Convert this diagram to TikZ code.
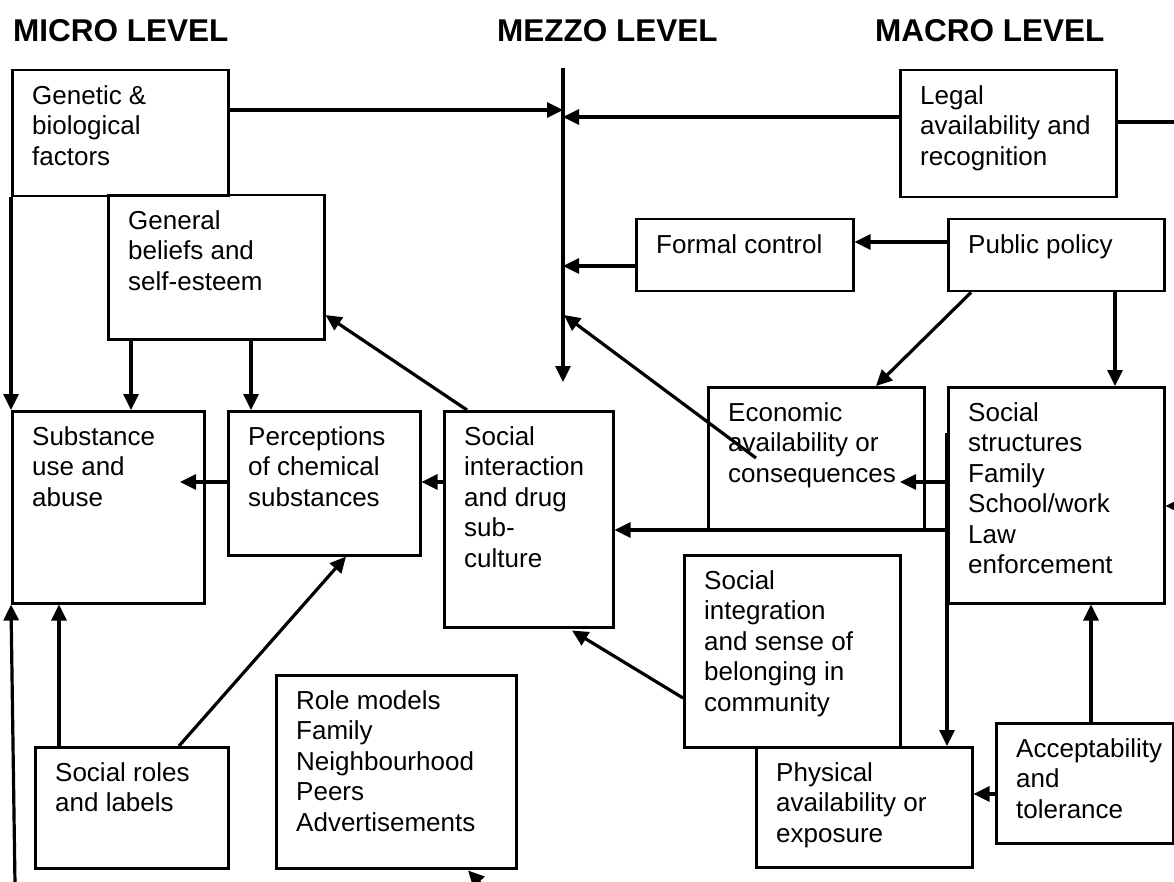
\documentclass[tikz,border=0pt]{standalone}
\usepackage{fontspec}
\setmainfont{Liberation Sans}
\usetikzlibrary{arrows.meta,calc}
\begin{document}
\begin{tikzpicture}[x=1pt,y=-1pt,
  box/.style={draw, line width=2.5pt, anchor=north west, inner sep=0pt},
  txt/.style={anchor=north west, inner sep=0pt, align=left, font=\fontsize{26}{30.5}\selectfont},
  head/.style={anchor=base west, inner sep=0pt, font=\fontsize{31.5}{36}\selectfont\bfseries},
  conn/.style={line width=3.2pt, -{Triangle[length=16pt,width=15pt]}},
  bare/.style={line width=3.2pt},
]
\useasboundingbox[fill=white] (0,0) rectangle (1174,882);

% headings
\node[head] (micro) at (13,41.7) {MICRO LEVEL};
\node[head] (mezzo) at (497,41.7) {MEZZO LEVEL};
\node[head] (macro) at (875,41.7) {MACRO LEVEL};

% boxes
\node[box, minimum width=216pt, minimum height=126pt] (gen) at (11,69) {};
\node[box, minimum width=216pt, minimum height=144pt] (bel) at (107,194) {};
\node[box, minimum width=192pt, minimum height=192pt] (sub) at (11,410) {};
\node[box, minimum width=192pt, minimum height=144pt] (per) at (227,410) {};
\node[box, minimum width=169pt, minimum height=216pt] (sint) at (443,410) {};
\node[box, minimum width=193pt, minimum height=121pt] (rol) at (34,746) {};
\node[box, minimum width=240pt, minimum height=193pt] (rmod) at (275,674) {};
\node[box, minimum width=216pt, minimum height=127pt] (leg) at (899,69) {};
\node[box, minimum width=217pt, minimum height=72pt] (form) at (635,218) {};
\node[box, minimum width=216pt, minimum height=72pt] (pub) at (947,218) {};
\node[box, minimum width=216pt, minimum height=143pt] (eco) at (707,386) {};
\node[box, minimum width=216pt, minimum height=216pt] (sstr) at (947,386) {};
\node[box, minimum width=216pt, minimum height=192pt] (sinteg) at (683,554) {};
\node[box, minimum width=216pt, minimum height=120pt] (phys) at (755,746) {};
\node[box, minimum width=177pt, minimum height=120pt] (acc) at (995,722) {};

% texts
\node[txt] (gen-t) at ($(gen.north west)+(21,13.65)$) {\strut Genetic \&\\biological\\factors};
\node[txt] (bel-t) at ($(bel.north west)+(21,13.65)$) {\strut General\\beliefs and\\self-esteem};
\node[txt] (sub-t) at ($(sub.north west)+(21,13.65)$) {\strut Substance\\use and\\abuse};
\node[txt] (per-t) at ($(per.north west)+(21,13.65)$) {\strut Perceptions\\of chemical\\substances};
\node[txt] (sint-t) at ($(sint.north west)+(21,13.65)$) {\strut Social\\interaction\\and drug\\sub-\\culture};
\node[txt] (rol-t) at ($(rol.north west)+(21,13.65)$) {\strut Social roles\\and labels};
\node[txt] (rmod-t) at ($(rmod.north west)+(21,13.65)$) {\strut Role models\\Family\\Neighbourhood\\Peers\\Advertisements};
\node[txt] (leg-t) at ($(leg.north west)+(21,13.65)$) {\strut Legal\\availability and\\recognition};
\node[txt] (form-t) at ($(form.north west)+(21,13.65)$) {\strut Formal control};
\node[txt] (pub-t) at ($(pub.north west)+(21,13.65)$) {\strut Public policy};
\node[txt] (eco-t) at ($(eco.north west)+(21,13.65)$) {\strut Economic\\availability or\\consequences};
\node[txt] (sstr-t) at ($(sstr.north west)+(21,13.65)$) {\strut Social\\structures\\Family\\School/work\\Law\\enforcement};
\node[txt] (sinteg-t) at ($(sinteg.north west)+(21,13.65)$) {\strut Social\\integration\\and sense of\\belonging in\\community};
\node[txt] (phys-t) at ($(phys.north west)+(21,13.65)$) {\strut Physical\\availability or\\exposure};
\node[txt] (acc-t) at ($(acc.north west)+(21,13.65)$) {\strut Acceptability\\and\\tolerance};

% free points
\coordinate (mzT) at (563,68);
\coordinate (mzB) at (563,382);
\coordinate (mzM) at (564,315);
\coordinate (edgeR) at (1175,0);
\coordinate (e22) at (1175,506);
\coordinate (lb) at (15,884);
\coordinate (bb) at (481,884);

% mezzo line
\draw[conn] (mzT) -- (mzB);

% connectors
\coordinate (g1) at ($(gen.north east)+(0,41)$);
\draw[conn] (g1) -- (g1 -| mzT);
\coordinate (l1) at ($(leg.north west)+(0,48)$);
\draw[conn] (l1) -- (l1 -| mzT);
\coordinate (l2) at ($(leg.north east)+(0,53)$);
\draw[bare] (l2) -- (l2 -| edgeR);
\coordinate (f1) at ($(form.north west)+(0,48)$);
\draw[conn] (f1) -- (f1 -| mzT);
\coordinate (p1) at ($(pub.north west)+(0,24)$);
\draw[conn] (p1) -- (p1 -| form.east);
\draw[conn] ($(pub.south west)+(24,0)$) -- ($(eco.north west)+(169,0)$);
\draw[conn] ($(pub.south west)+(168,0)$) -- ($(sstr.north west)+(168,0)$);
\draw[conn] ($(eco.north west)+(49,72)$) -- (mzM);
\draw[conn] (gen.south west) -- (sub.north west);
\draw[conn] ($(bel.south west)+(24,0)$) -- ($(sub.north west)+(120,0)$);
\draw[conn] ($(bel.south west)+(144,0)$) -- ($(per.north west)+(24,0)$);
\draw[conn] ($(sint.north west)+(24,0)$) -- ($(bel.north east)+(0,121)$);
\draw[conn] ($(per.north west)+(0,72)$) -- ($(sub.north west)+(169,72)$);
\draw[conn] ($(sint.north west)+(0,72)$) -- ($(per.north east)+(0,72)$);
\draw[conn] ($(sstr.north west)+(0,96)$) -- ($(eco.north west)+(193,96)$);
\draw[conn] ($(sstr.north west)+(0,144)$) -- ($(sint.north east)+(0,120)$);
\draw[conn] ($(sstr.north west)+(0,47)$) -- ($(phys.north west)+(192,0)$);
\draw[conn] ($(sinteg.north west)+(0,144)$) -- ($(sint.south west)+(129,2)$);
\draw[conn] ($(acc.north west)+(0,72)$) -- ($(phys.north east)+(0,48)$);
\draw[conn] ($(acc.north west)+(96,0)$) -- ($(sstr.south west)+(144,0)$);
\draw[conn] (e22) -- (e22 -| sstr.east);
\draw[conn] ($(rol.north west)+(25,0)$) -- ($(sub.south west)+(48,0)$);
\draw[conn] ($(rol.north west)+(145,0)$) -- ($(per.south west)+(119,0)$);
\draw[conn] (lb) -- (sub.south west);
\draw[conn] (bb) -- ($(rmod.south west)+(193,1)$);
\end{tikzpicture}
\end{document}
